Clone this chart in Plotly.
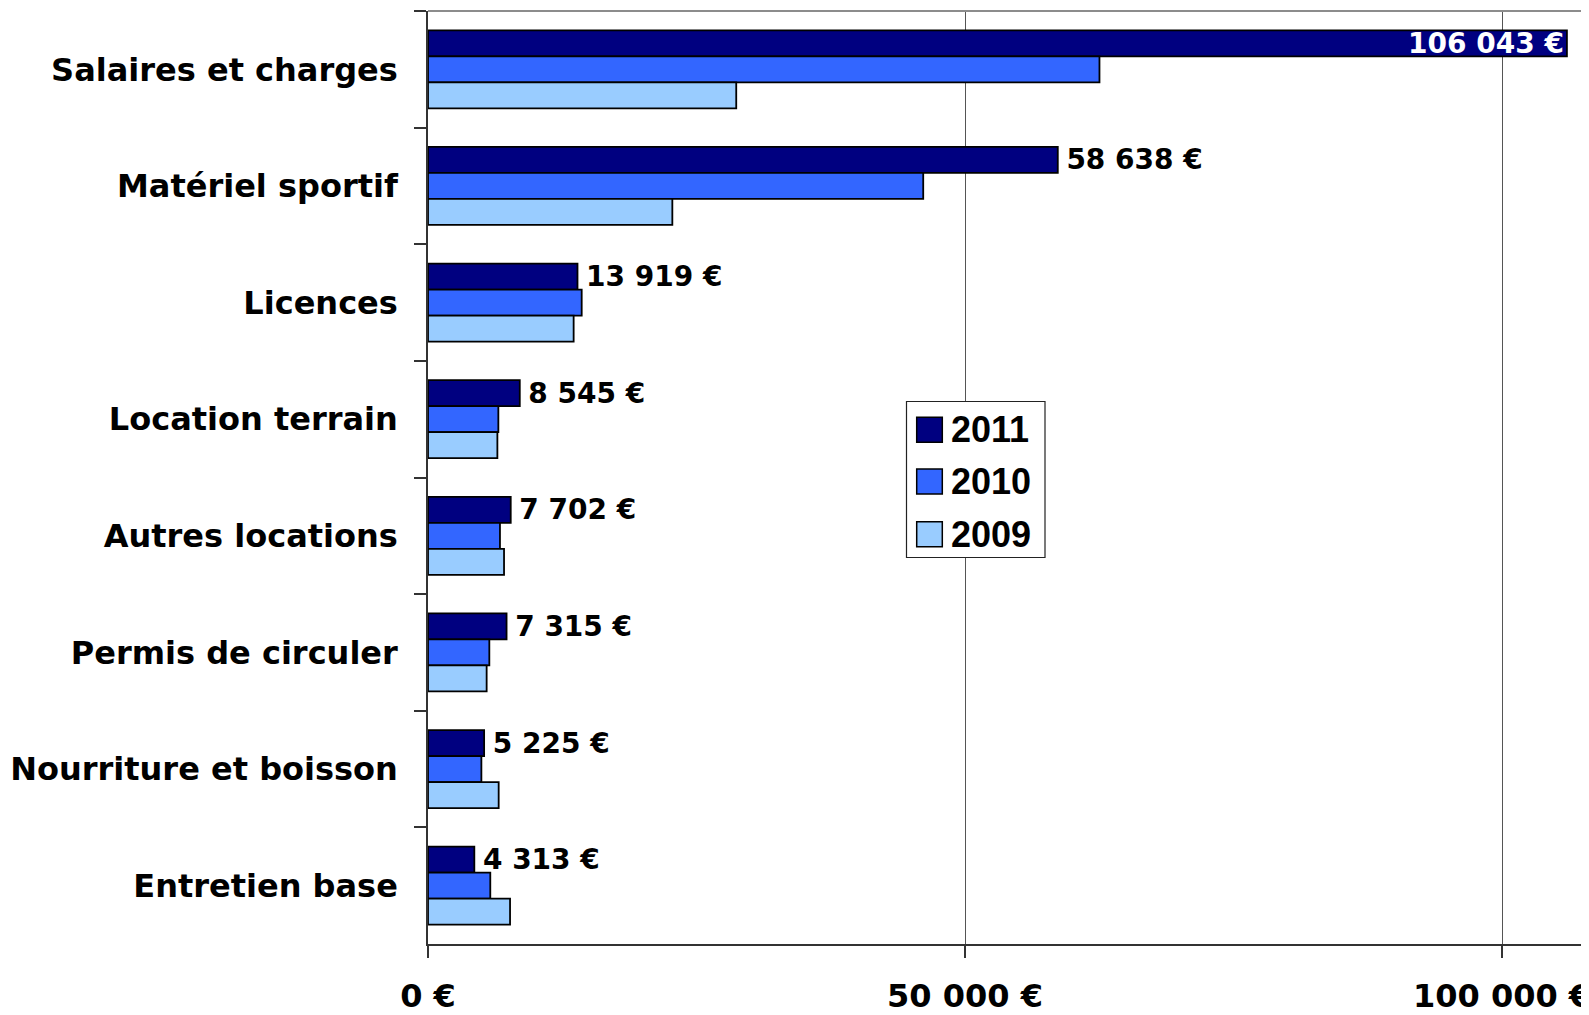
import plotly.graph_objects as go

categories = ["Salaires et charges", "Matériel sportif", "Licences", "Location terrain",
              "Autres locations", "Permis de circuler", "Nourriture et boisson", "Entretien base"]
series_names = ["2011", "2010", "2009"]
values_2011 = [106043, 58638, 13919, 8545, 7702, 7315, 5225, 4313]
values_2010 = [62520, 46110, 14310, 6550, 6700, 5710, 4970, 5800]
values_2009 = [28700, 22750, 13560, 6460, 7080, 5460, 6580, 7640]
colors = ["#000080", "#3366FF", "#99CCFF"]
x_tickvals = [0, 50000, 100000]
x_ticktext = ["0 €", "50 000 €", "100 000 €"]

# page body has an 8px margin; the figure is sized to end at the window edge
OFF = 8
PAGE_W, PAGE_H = 1589, 1015
W, H = PAGE_W - OFF, PAGE_H - OFF
PLOT_L, PLOT_R, PLOT_T, PLOT_B = 428, 1589, 11, 944  # page pixel coords
ML = PLOT_L - OFF
MT = PLOT_T - OFF
MR = PAGE_W - PLOT_R
MB = PAGE_H - PLOT_B

def fmt(v):
    return "\u2009" + f"{v:,}".replace(",", "\u00a0") + "\u00a0€"

fig = go.Figure()
all_vals = [values_2011, values_2010, values_2009]
for i, (name, vals, col) in enumerate(zip(series_names, all_vals, colors)):
    kw = {}
    if i == 0:
        kw = dict(
            text=[fmt(v) for v in vals],
            textposition=["inside"] + ["outside"] * (len(vals) - 1),
            insidetextanchor="end",
            insidetextfont=dict(family="DejaVu Sans", weight="bold", color="white", size=28),
            outsidetextfont=dict(family="DejaVu Sans", weight="bold", color="black", size=28),
            textangle=0,
            constraintext="none",
            cliponaxis=False,
        )
    fig.add_trace(go.Bar(
        y=categories, x=vals, name=name, orientation="h",
        marker=dict(color=col, line=dict(color="black", width=1.8)),
        showlegend=False, hoverinfo="x+y", **kw))

plot_w = PLOT_R - PLOT_L
plot_h = PLOT_B - PLOT_T
xmax = 108100

def px_x(p):
    return (p - PLOT_L) / plot_w

def px_y(p):
    return (PLOT_B - p) / plot_h

shapes = [
    dict(type="line", xref="paper", yref="paper", x0=0, x1=1, y0=1, y1=1,
         line=dict(color="#8c8c8c", width=2), layer="above"),
    dict(type="rect", xref="paper", yref="paper",
         x0=px_x(906.5), x1=px_x(1045), y0=px_y(557.5), y1=px_y(401.5),
         fillcolor="white", line=dict(color="#222", width=1.2), layer="above"),
]
annotations = []
swatch_tops = [417.3, 469.0, 521.7]
for name, col, top in zip(series_names, colors, swatch_tops):
    shapes.append(dict(type="rect", xref="paper", yref="paper",
                       x0=px_x(916.7), x1=px_x(942.3), y0=px_y(top + 25), y1=px_y(top),
                       fillcolor=col, line=dict(color="black", width=1.5), layer="above"))
    annotations.append(dict(xref="paper", yref="paper", x=px_x(949), y=px_y(top + 12.5),
                            xanchor="left", yanchor="middle", text=name, showarrow=False,
                            font=dict(family="Liberation Sans", weight="bold", size=36, color="black")))

fig.update_layout(
    width=W, height=H,
    margin=dict(l=ML, r=MR, t=MT, b=MB, pad=0, autoexpand=False),
    paper_bgcolor="white", plot_bgcolor="white",
    barmode="group", bargap=0.331, bargroupgap=0,
    shapes=shapes, annotations=annotations,
    showlegend=False,
    xaxis=dict(range=[0, xmax], tickvals=x_tickvals, ticktext=x_ticktext,
               automargin=False, ticklabeloverflow="allow",
               showgrid=True, gridcolor="#555", gridwidth=1, zeroline=False,
               showline=True, linecolor="#333", linewidth=1.5,
               ticks="outside", ticklen=12, tickcolor="#333", tickwidth=1.5,
               ticklabelstandoff=11,
               tickfont=dict(family="DejaVu Sans", weight="bold", size=32, color="black")),
    yaxis=dict(autorange="reversed", tickson="boundaries", ticks="outside", ticklen=12,
               automargin=False,
               tickcolor="#333", tickwidth=1.5, showline=True, linecolor="#333", linewidth=1.5,
               showgrid=False, ticklabelstandoff=22,
               tickfont=dict(family="DejaVu Sans", weight="bold", size=32, color="black")),
)

fig.write_html("out.html")
